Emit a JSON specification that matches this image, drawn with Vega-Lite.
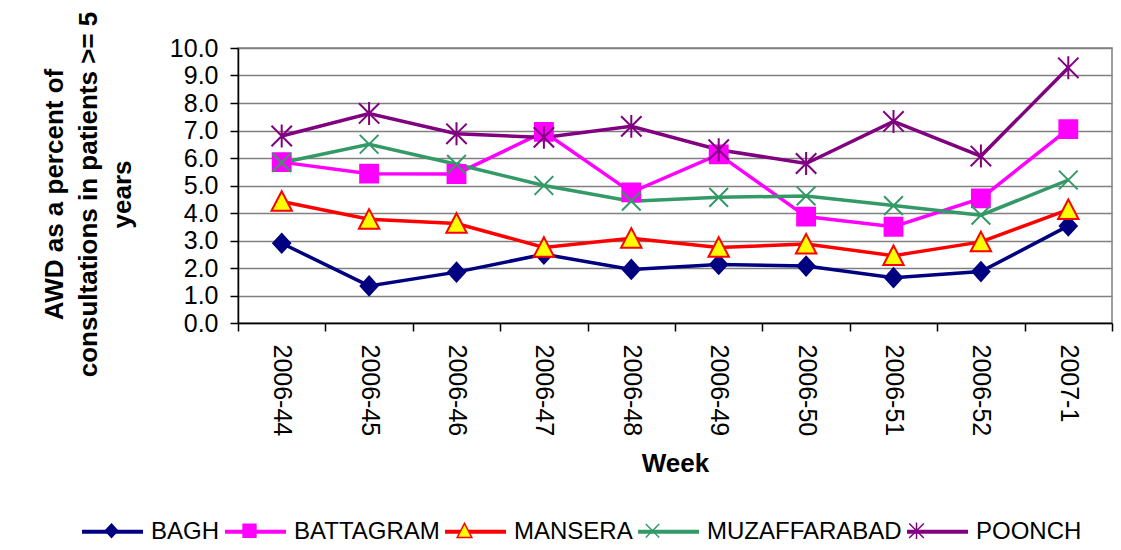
{
  "$schema": "https://vega.github.io/schema/vega-lite/v6.json",
  "width": 874,
  "height": 275,
  "autosize": {"type": "none"},
  "padding": {"left": 238, "top": 48, "right": 9, "bottom": 227},
  "background": "white",
  "config": {
    "font": "Liberation Sans",
    "view": {"stroke": "#808080", "strokeWidth": 1.5},
    "axis": {
      "labelFont": "Liberation Sans",
      "labelColor": "black",
      "titleFont": "Liberation Sans",
      "titleColor": "black",
      "domainColor": "black",
      "domainWidth": 1.5,
      "tickColor": "black",
      "tickWidth": 1.5,
      "tickSize": 8,
      "gridColor": "#808080",
      "gridWidth": 1.5
    },
    "legend": {
      "labelFont": "Liberation Sans",
      "labelFontSize": 24,
      "labelColor": "black",
      "labelOffset": 6,
      "labelLimit": 400,
      "columnPadding": -3,
      "symbolSize": 3721
    }
  },
  "data": {
    "values": [
      {"week": "2006-44", "district": "BAGH", "pct": 2.9},
      {"week": "2006-45", "district": "BAGH", "pct": 1.35},
      {"week": "2006-46", "district": "BAGH", "pct": 1.85},
      {"week": "2006-47", "district": "BAGH", "pct": 2.5},
      {"week": "2006-48", "district": "BAGH", "pct": 1.95},
      {"week": "2006-49", "district": "BAGH", "pct": 2.13},
      {"week": "2006-50", "district": "BAGH", "pct": 2.07},
      {"week": "2006-51", "district": "BAGH", "pct": 1.65},
      {"week": "2006-52", "district": "BAGH", "pct": 1.87},
      {"week": "2007-1", "district": "BAGH", "pct": 3.53},
      {"week": "2006-44", "district": "BATTAGRAM", "pct": 5.85},
      {"week": "2006-45", "district": "BATTAGRAM", "pct": 5.43},
      {"week": "2006-46", "district": "BATTAGRAM", "pct": 5.42},
      {"week": "2006-47", "district": "BATTAGRAM", "pct": 6.95},
      {"week": "2006-48", "district": "BATTAGRAM", "pct": 4.75},
      {"week": "2006-49", "district": "BATTAGRAM", "pct": 6.13},
      {"week": "2006-50", "district": "BATTAGRAM", "pct": 3.87},
      {"week": "2006-51", "district": "BATTAGRAM", "pct": 3.5},
      {"week": "2006-52", "district": "BATTAGRAM", "pct": 4.53},
      {"week": "2007-1", "district": "BATTAGRAM", "pct": 7.05},
      {"week": "2006-44", "district": "MANSERA", "pct": 4.42},
      {"week": "2006-45", "district": "MANSERA", "pct": 3.77},
      {"week": "2006-46", "district": "MANSERA", "pct": 3.62},
      {"week": "2006-47", "district": "MANSERA", "pct": 2.75},
      {"week": "2006-48", "district": "MANSERA", "pct": 3.08},
      {"week": "2006-49", "district": "MANSERA", "pct": 2.75},
      {"week": "2006-50", "district": "MANSERA", "pct": 2.87},
      {"week": "2006-51", "district": "MANSERA", "pct": 2.45},
      {"week": "2006-52", "district": "MANSERA", "pct": 2.95},
      {"week": "2007-1", "district": "MANSERA", "pct": 4.12},
      {"week": "2006-44", "district": "MUZAFFARABAD", "pct": 5.83},
      {"week": "2006-45", "district": "MUZAFFARABAD", "pct": 6.5},
      {"week": "2006-46", "district": "MUZAFFARABAD", "pct": 5.77},
      {"week": "2006-47", "district": "MUZAFFARABAD", "pct": 5.0},
      {"week": "2006-48", "district": "MUZAFFARABAD", "pct": 4.43},
      {"week": "2006-49", "district": "MUZAFFARABAD", "pct": 4.57},
      {"week": "2006-50", "district": "MUZAFFARABAD", "pct": 4.62},
      {"week": "2006-51", "district": "MUZAFFARABAD", "pct": 4.27},
      {"week": "2006-52", "district": "MUZAFFARABAD", "pct": 3.92},
      {"week": "2007-1", "district": "MUZAFFARABAD", "pct": 5.2},
      {"week": "2006-44", "district": "POONCH", "pct": 6.8},
      {"week": "2006-45", "district": "POONCH", "pct": 7.62},
      {"week": "2006-46", "district": "POONCH", "pct": 6.88},
      {"week": "2006-47", "district": "POONCH", "pct": 6.75},
      {"week": "2006-48", "district": "POONCH", "pct": 7.15},
      {"week": "2006-49", "district": "POONCH", "pct": 6.3},
      {"week": "2006-50", "district": "POONCH", "pct": 5.8},
      {"week": "2006-51", "district": "POONCH", "pct": 7.33},
      {"week": "2006-52", "district": "POONCH", "pct": 6.07},
      {"week": "2007-1", "district": "POONCH", "pct": 9.28}
    ]
  },
  "encoding": {
    "x": {
      "field": "week",
      "type": "nominal",
      "sort": null,
      "scale": {"type": "band", "paddingInner": 0, "paddingOuter": 0},
      "axis": {
        "title": "Week",
        "titleFontSize": 26,
        "titleFontWeight": "bold",
        "titleY": 140,
        "titleBaseline": "middle",
        "labelAngle": 90,
        "labelFontSize": 25,
        "labelPadding": 13,
        "tickBand": "extent",
        "grid": false
      }
    },
    "y": {
      "field": "pct",
      "type": "quantitative",
      "scale": {"domain": [0, 10]},
      "axis": {
        "title": ["AWD as a percent of", "consultations in patients >= 5", "years"],
        "titleFontSize": 26,
        "titleFontWeight": "bold",
        "titleLineHeight": 34,
        "titleAngle": 270,
        "titleAlign": "center",
        "titleBaseline": "bottom",
        "titleX": -171,
        "titleY": 146,
        "values": [0, 1, 2, 3, 4, 5, 6, 7, 8, 9, 10],
        "format": ".1f",
        "labelFontSize": 25,
        "labelPadding": 12,
        "grid": true
      }
    }
  },
  "layer": [
    {
      "mark": {"type": "line", "strokeWidth": 3.5},
      "encoding": {
        "color": {
          "field": "district",
          "type": "nominal",
          "scale": {
            "domain": ["BAGH", "BATTAGRAM", "MANSERA", "MUZAFFARABAD", "POONCH"],
            "range": ["#000080", "#FF00FF", "#FF0000", "#339966", "#800080"]
          },
          "legend": {
            "title": null,
            "orient": "none",
            "direction": "horizontal",
            "legendX": -158,
            "legendY": 451,
            "symbolType": "stroke",
            "symbolStrokeWidth": 4
          }
        }
      }
    },
    {
      "mark": {"type": "point", "size": 7225, "strokeWidth": 2, "opacity": 1},
      "encoding": {
        "shape": {
          "field": "district",
          "type": "nominal",
          "scale": {
            "range": [
              "M-1,0M1,0M0,-0.22L0.2,0L0,0.22L-0.2,0Z",
              "M-1,0M1,0M-0.21,-0.21L0.21,-0.21L0.21,0.21L-0.21,0.21Z",
              "M-1,0M1,0M0,-0.24L0.24,0.22L-0.24,0.22Z",
              "M-1,0M1,0M-0.22,-0.22L0.22,0.22M-0.22,0.22L0.22,-0.22",
              "M-1,0M1,0M-0.24,-0.24L0.24,0.24M-0.24,0.24L0.24,-0.24M0,-0.27L0,0.27"
            ]
          },
          "legend": {
            "title": null,
            "orient": "none",
            "direction": "horizontal",
            "legendX": -158,
            "legendY": 451,
            "labelOpacity": 0,
            "symbolStrokeWidth": 1.5
          }
        },
        "fill": {
          "field": "district",
          "type": "nominal",
          "scale": {"range": ["#000080", "#FF00FF", "#FFFF00", "transparent", "transparent"]},
          "legend": {
            "title": null,
            "orient": "none",
            "direction": "horizontal",
            "legendX": -158,
            "legendY": 451,
            "labelOpacity": 0,
            "symbolStrokeWidth": 1.5
          }
        },
        "stroke": {
          "field": "district",
          "type": "nominal",
          "scale": {"range": ["#000080", "#FF00FF", "#FF0000", "#339966", "#800080"]},
          "legend": {
            "title": null,
            "orient": "none",
            "direction": "horizontal",
            "legendX": -158,
            "legendY": 451,
            "labelOpacity": 0,
            "symbolStrokeWidth": 1.5
          }
        }
      }
    }
  ]
}
